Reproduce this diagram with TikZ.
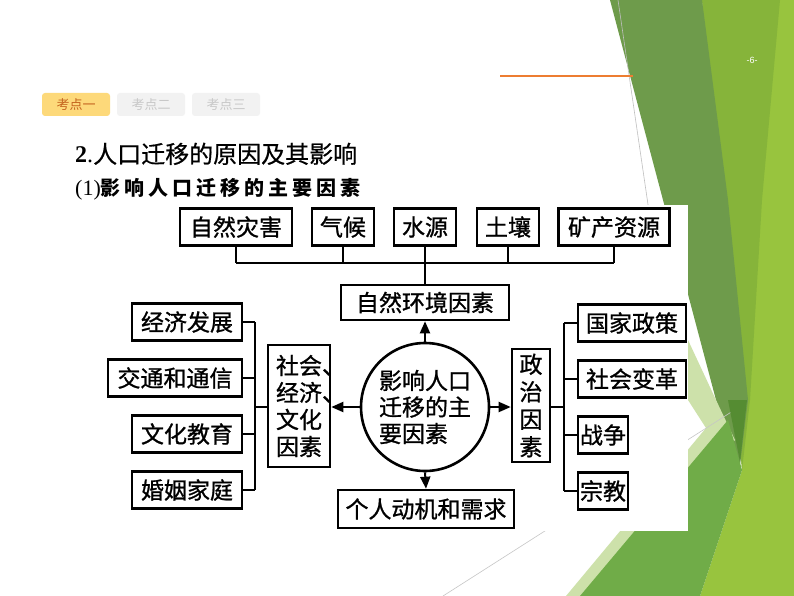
\documentclass[tikz,border=0pt]{standalone}
\usepackage{fontspec}
\setmainfont{Liberation Serif}
\newfontfamily\cjk{Noto Sans CJK SC}
\newfontfamily\cjkb[FakeBold=1]{Noto Sans CJK SC}
\newfontfamily\cjkt[FakeBold=0.6]{Noto Sans CJK SC}
\newfontfamily\sansf{Liberation Sans}
\usetikzlibrary{arrows.meta}
\definecolor{lgreen}{RGB}{152,196,62}
\definecolor{mgreen}{RGB}{134,180,58}
\definecolor{dgreen}{RGB}{110,155,75}
\definecolor{ddgreen}{RGB}{85,140,50}
\definecolor{bgreen}{RGB}{112,172,72}
\definecolor{pgreen}{RGB}{205,225,170}
\definecolor{orangeline}{RGB}{237,125,49}
\definecolor{tabfill}{RGB}{253,217,122}
\definecolor{tabtext}{RGB}{196,100,30}
\definecolor{tabgray}{RGB}{242,242,242}
\definecolor{tabgtext}{RGB}{200,200,200}
\begin{document}
\begin{tikzpicture}[x=1pt,y=-1pt,
  box/.style={draw, line width=2.6pt, inner sep=0pt, minimum height=37pt,
    font=\cjkb\fontsize{23}{27}\selectfont},
  conn/.style={line width=2pt},
  arr/.style={line width=2pt, -{Triangle[length=12pt,width=10pt]}},
  tab/.style={rounded corners=3pt, minimum width=68pt, minimum height=23pt, inner sep=0pt,
    font=\cjk\fontsize{13}{15}\selectfont}]
\useasboundingbox (0,0) rectangle (794,596);
% background
\fill[white] (0,0) rectangle (794,596);
\fill[lgreen] (702,0) -- (794,0) -- (794,596) -- (700,596) -- (742,470) -- cycle;
\fill[mgreen] (702,0) -- (780,0) -- (762,200) -- (750,400) -- (742,470) -- cycle;
\fill[dgreen] (610,0) -- (702,0) -- (728,200) -- (748,400) -- (740,465) -- (716,400) -- (663,200) -- cycle;
\fill[pgreen] (688,340) -- (716,400) -- (735,440) -- (590,596) -- (566,596) -- (706,428) -- (688,400) -- cycle;
\begin{scope}
  \clip (0,0) rectangle (738,596);
  \draw[gray!45, line width=0.6pt] (443,596) -- (794,372);
\end{scope}
\fill[bgreen] (580,596) -- (700,596) -- (742,470) -- (728,420) -- cycle;
\fill[ddgreen] (728,400) -- (747,400) -- (740,462) -- cycle;
\draw[gray!50, line width=0.6pt] (618,0) -- (662,300);
\draw[orangeline, line width=1.5pt] (500,76) -- (633,76);
\node[text=white, font=\sansf\fontsize{9}{10}\selectfont] (pg) at (752,60) {-6-};
% tabs
\node[tab, fill=tabfill, text=tabtext] (t1) at (76,104.5) {考点一};
\node[tab, fill=tabgray, text=tabgtext] (t2) at (151,104.5) {考点二};
\node[tab, fill=tabgray, text=tabgtext] (t3) at (226,104.5) {考点三};
% titles
\node[anchor=base west, inner sep=0pt, font=\fontsize{24}{28}\selectfont] (title) at (75,163)
  {\textbf{2}.{\cjkt 人口迁移的原因及其影响}};
\node[anchor=base west, inner sep=0pt, font=\fontsize{22}{26}\selectfont] (sub) at (75,195)
  {(1){\cjk\bfseries\fontsize{20}{24}\selectfont 影\hspace{4pt}响\hspace{4pt}人\hspace{4pt}口\hspace{4pt}迁\hspace{4pt}移\hspace{4pt}的\hspace{4pt}主\hspace{4pt}要\hspace{4pt}因\hspace{4pt}素}};
% diagram white area
\fill[white] (100,205) rectangle (688,531);
% top boxes
\node[box, minimum width=112pt] (n1) at (236,227) {自然灾害};
\node[box, minimum width=62pt] (n2) at (343,227) {气候};
\node[box, minimum width=62pt] (n3) at (425,227) {水源};
\node[box, minimum width=62pt] (n4) at (508,227) {土壤};
\node[box, minimum width=111pt] (n5) at (614,227) {矿产资源};
\node[box, minimum width=168pt, minimum height=35pt] (env) at (425,302.5) {自然环境因素};
% centre
\node[circle, draw, line width=2.6pt, minimum size=128pt, inner sep=0pt, align=left,
  font=\cjkb\fontsize{23}{26.5}\selectfont] (c) at (425,407) {影响人口\\迁移的主\\要因素};
\node[box, minimum width=62pt, minimum height=122pt, align=left,
  font=\cjkb\fontsize{23}{27}\selectfont] (soc) at (299,406)
  {\makebox[46pt][l]{社会、}\\\makebox[46pt][l]{经济、}\\文化\\因素};
\node[box, minimum width=38pt, minimum height=113pt, align=center,
  font=\cjkb\fontsize{23}{27.5}\selectfont] (pol) at (531,405.5) {政\\治\\因\\素};
\node[box, minimum width=176pt, minimum height=38pt] (ind) at (426,509) {个人动机和需求};
% left column
\node[box, minimum width=110pt] (l1) at (187,322) {经济发展};
\node[box, minimum width=134pt] (l2) at (175,378) {交通和通信};
\node[box, minimum width=110pt] (l3) at (187,434) {文化教育};
\node[box, minimum width=110pt] (l4) at (187,490) {婚姻家庭};
% right column
\node[box, minimum width=108pt] (r1) at (632,323) {国家政策};
\node[box, minimum width=108pt] (r2) at (632,379) {社会变革};
\node[box, minimum width=50pt] (r3) at (603,435) {战争};
\node[box, minimum width=50pt] (r4) at (603,491) {宗教};
% connectors top
\coordinate (busL) at (236,263);
\coordinate (busR) at (614,263);
\draw[conn] (n1.south) -- (n1.south |- busL);
\draw[conn] (n2.south) -- (n2.south |- busL);
\draw[conn] (n4.south) -- (n4.south |- busL);
\draw[conn] (n5.south) -- (n5.south |- busL);
\draw[conn] (n3.south) -- (env.north);
\draw[conn] (busL) -- (busR);
% arrows
\draw[arr] (c.north) -- (env.south);
\draw[arr] (c.south) -- (ind.north);
\draw[arr] (c.west) -- (soc.east |- c.west);
\draw[arr] (c.east) -- (pol.west |- c.east);
% left bus
\coordinate (lbt) at (255,322);
\coordinate (lbb) at (255,490);
\coordinate (lbm) at (255,407);
\draw[conn] (lbt) -- (lbb);
\draw[conn] (l1.east) -- (l1.east -| lbt);
\draw[conn] (l2.east) -- (l2.east -| lbt);
\draw[conn] (l3.east) -- (l3.east -| lbt);
\draw[conn] (l4.east) -- (l4.east -| lbt);
\draw[conn] (lbm) -- (soc.west |- lbm);
% right bus
\coordinate (rbt) at (564,323);
\coordinate (rbb) at (564,491);
\coordinate (rbm) at (564,407);
\draw[conn] (rbt) -- (rbb);
\draw[conn] (r1.west) -- (r1.west -| rbt);
\draw[conn] (r2.west) -- (r2.west -| rbt);
\draw[conn] (r3.west) -- (r3.west -| rbt);
\draw[conn] (r4.west) -- (r4.west -| rbt);
\draw[conn] (rbm) -- (pol.east |- rbm);
\end{tikzpicture}
\end{document}
